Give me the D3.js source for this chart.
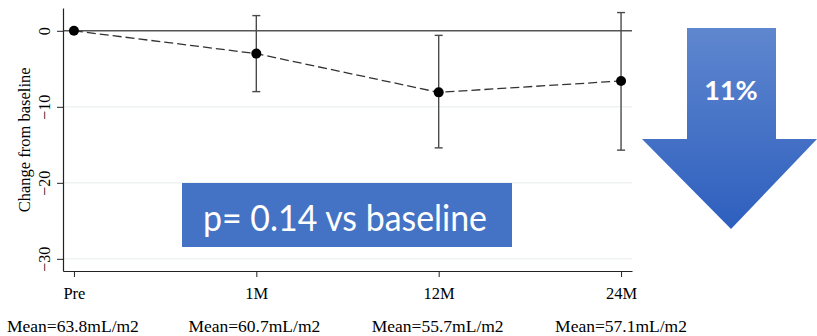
<!DOCTYPE html>
<html>
<head>
<meta charset="utf-8">
<script src="https://cdn.jsdelivr.net/npm/d3@7"></script>
<style>
  body { margin: 0; background: #fff; }
  svg { display: block; }
  .axis text { font-family: "Liberation Serif", "Times New Roman", serif; fill: #000; }
  .axis path, .axis line { stroke: #222; }
</style>
</head>
<body>
<svg id="chart"></svg>
<script>
const WIDTH = 817;
const HEIGHT = 336;

// data
const timepoints = ['Pre', '1M', '12M', '24M'];
const changeMean = [0, -3.0, -8.1, -6.6];
const ciUpper = [null, 2.0, -0.6, 2.4];
const ciLower = [null, -8.0, -15.4, -15.7];
const meanLabels = ['Mean=63.8mL/m2', 'Mean=60.7mL/m2', 'Mean=55.7mL/m2', 'Mean=57.1mL/m2'];
const yTicks = [0, -10, -20, -30];
const pText = 'p= 0.14 vs baseline';
const dropText = '11%';

const svg = d3.select('#chart')
    .attr('width', WIDTH)
    .attr('height', HEIGHT);

const x = d3.scalePoint()
    .domain(timepoints)
    .range([63, 632])
    .padding(0.06);

const y = d3.scaleLinear()
    .domain([-31.6, 3.0])
    .range([271, 8]);

// faint grid lines
svg.append('g')
    .selectAll('line')
    .data(yTicks.filter(d => d !== 0))
    .join('line')
    .attr('x1', 63)
    .attr('x2', 632)
    .attr('y1', d => y(d))
    .attr('y2', d => y(d))
    .attr('stroke', '#e6eded')
    .attr('stroke-width', 1);

// zero reference line
svg.append('line')
    .attr('x1', 63)
    .attr('x2', 632)
    .attr('y1', y(0))
    .attr('y2', y(0))
    .attr('stroke', '#555')
    .attr('stroke-width', 1.6);

const yAxis = svg.append('g')
    .attr('class', 'axis')
    .attr('transform', 'translate(63,0)')
    .call(d3.axisLeft(y).tickValues(yTicks).tickSize(6).tickSizeOuter(0));

yAxis.selectAll('.tick text')
    .attr('transform', 'rotate(-90)')
    .attr('x', 0)
    .attr('y', -13)
    .attr('dy', 0)
    .style('font-size', '16px')
    .style('text-anchor', 'middle');

svg.append('text')
    .attr('transform', `translate(30,${(y(0) + y(-30)) / 2 - 5}) rotate(-90)`)
    .attr('text-anchor', 'middle')
    .style('font-family', '"Liberation Serif", "Times New Roman", serif')
    .style('font-size', '16.5px')
    .text('Change from baseline');

const xAxis = svg.append('g')
    .attr('class', 'axis')
    .attr('transform', 'translate(0,271)')
    .call(d3.axisBottom(x).tickSize(6).tickSizeOuter(0).tickPadding(10));

xAxis.selectAll('.tick text').style('font-size', '16.5px');

svg.selectAll('.axis .domain').attr('stroke-width', 1.2);

// mean labels under the axis
svg.append('g')
    .selectAll('text')
    .data(meanLabels)
    .join('text')
    .attr('x', (d, i) => x(timepoints[i]) + [-1, -2, -1, 0][i])
    .attr('y', 332)
    .attr('text-anchor', 'middle')
    .style('font-family', '"Liberation Serif", "Times New Roman", serif')
    .style('font-size', '17.5px')
    .text(d => d);

const points = timepoints.map((t, i) => ({
    t, mean: changeMean[i], hi: ciUpper[i], lo: ciLower[i]
}));

// dashed connecting line
svg.append('path')
    .datum(points)
    .attr('fill', 'none')
    .attr('stroke', '#333')
    .attr('stroke-width', 1.3)
    .attr('stroke-dasharray', '9,4')
    .attr('d', d3.line().x(d => x(d.t)).y(d => y(d.mean)));

// error bars
const bars = svg.append('g')
    .selectAll('g')
    .data(points.filter(d => d.hi !== null))
    .join('g')
    .attr('stroke', '#4a4a4a')
    .attr('stroke-width', 1.4);

bars.append('line')
    .attr('x1', d => x(d.t))
    .attr('x2', d => x(d.t))
    .attr('y1', d => y(d.hi))
    .attr('y2', d => y(d.lo));

bars.append('line')
    .attr('x1', d => x(d.t) - 4)
    .attr('x2', d => x(d.t) + 4)
    .attr('y1', d => y(d.hi))
    .attr('y2', d => y(d.hi));

bars.append('line')
    .attr('x1', d => x(d.t) - 4)
    .attr('x2', d => x(d.t) + 4)
    .attr('y1', d => y(d.lo))
    .attr('y2', d => y(d.lo));

svg.append('g')
    .selectAll('circle')
    .data(points)
    .join('circle')
    .attr('cx', d => x(d.t))
    .attr('cy', d => y(d.mean))
    .attr('r', 5)
    .attr('fill', '#000');

// p-value box
svg.append('rect')
    .attr('x', 182)
    .attr('y', 183)
    .attr('width', 330)
    .attr('height', 64)
    .attr('fill', '#4472c4');

svg.append('text')
    .attr('x', 345)
    .attr('y', 231)
    .attr('text-anchor', 'middle')
    .attr('fill', '#fff')
    .attr('textLength', 284)
    .attr('lengthAdjust', 'spacingAndGlyphs')
    .style('font-family', 'Lato, "Open Sans", sans-serif')
    .style('font-size', '37px')
    .text(pText);

// big down arrow
const grad = svg.append('defs')
    .append('linearGradient')
    .attr('id', 'arrowGrad')
    .attr('x1', 0).attr('y1', 0)
    .attr('x2', 0).attr('y2', 1);
grad.append('stop').attr('offset', '0%').attr('stop-color', '#5f87cf');
grad.append('stop').attr('offset', '100%').attr('stop-color', '#2e5fbe');

const arrowPts = [[687, 28], [776, 28], [776, 139], [817, 139], [731, 229], [642, 139], [687, 139]];
svg.append('path')
    .attr('d', d3.line()(arrowPts) + 'Z')
    .attr('fill', 'url(#arrowGrad)');

svg.append('text')
    .attr('x', 731)
    .attr('y', 100)
    .attr('text-anchor', 'middle')
    .attr('fill', '#fff')
    .style('font-family', 'Lato, "Open Sans", sans-serif')
    .style('font-weight', 'bold')
    .style('font-size', '27px')
    .text(dropText);
</script>
</body>
</html>
